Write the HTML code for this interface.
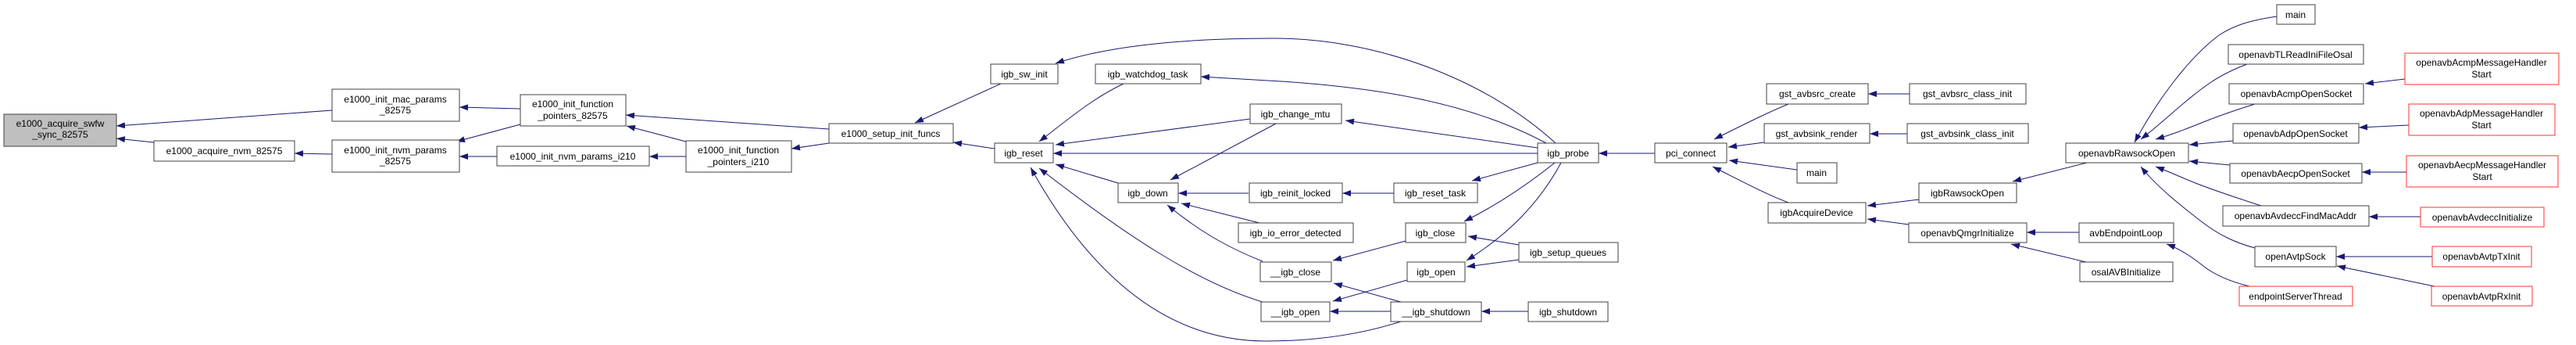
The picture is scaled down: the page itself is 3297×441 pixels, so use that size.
<!DOCTYPE html>
<html><head><meta charset="utf-8"><style>
html,body{margin:0;padding:0;background:#fff;width:3297px;height:441px;overflow:hidden}
svg{display:block}
text{font-family:"Liberation Sans",Arial,sans-serif;font-size:12px;fill:#000;text-anchor:middle}
.n{fill:#fff;stroke:#404040;stroke-width:1}
.r{fill:#fff;stroke:#ff3030;stroke-width:1}
.g{fill:#bfbfbf;stroke:#404040;stroke-width:1}
.e{fill:none;stroke:#191970;stroke-width:1;marker-end:url(#a)}
</style></head><body>
<svg width="3297" height="441" viewBox="0 0 3297 441" xmlns="http://www.w3.org/2000/svg">
<defs><marker id="a" markerUnits="userSpaceOnUse" markerWidth="12" markerHeight="8" refX="11" refY="4" orient="auto"><path d="M0,0 L11,4 L0,8 z" fill="#191970"/></marker></defs>
<!-- edges -->
<path class="e" d="M425,141 L149,161"/>
<path class="e" d="M197,182 L149,177"/>
<path class="e" d="M425,197 L377,196"/>
<path class="e" d="M666,139 L588,137"/>
<path class="e" d="M666,159 L584,181"/>
<path class="e" d="M636,200 L588,200"/>
<path class="e" d="M878,200 L831,200"/>
<path class="e" d="M878,181 L802,161"/>
<path class="e" d="M1061,165 L801,147"/>
<path class="e" d="M1061,183 L1013,190"/>
<path class="e" d="M1281,107 L1171,157"/>
<path class="e" d="M1273,190 L1220,182"/>
<path class="e" d="M1991,183 C1900,100 1760,49 1630,49 C1470,49 1390,68 1351,81"/>
<path class="e" d="M1979,183 C1880,130 1760,112 1640,104 L1537,98"/>
<path class="e" d="M1438,107 C1400,125 1370,150 1330,181"/>
<path class="e" d="M1600,152 L1351,185"/>
<path class="e" d="M1968,196 L1348,196"/>
<path class="e" d="M1968,189 L1722,154"/>
<path class="e" d="M1431,234 L1351,210"/>
<path class="e" d="M1616,334 C1580,320 1540,300 1494,262"/>
<path class="e" d="M1616,386 C1530,360 1440,300 1330,215"/>
<path class="e" d="M1793,411 C1740,428 1680,436 1620,436 C1500,436 1400,360 1319,214"/>
<path class="e" d="M1598,247 L1508,247"/>
<path class="e" d="M1612,285 L1512,260"/>
<path class="e" d="M1633,158 L1498,230"/>
<path class="e" d="M1784,247 L1718,247"/>
<path class="e" d="M1968,208 L1884,231"/>
<path class="e" d="M1990,208 C1950,240 1910,265 1874,283"/>
<path class="e" d="M1998,208 C1970,260 1930,300 1877,333"/>
<path class="e" d="M1799,308 L1706,333"/>
<path class="e" d="M1944,313 L1879,302"/>
<path class="e" d="M1944,332 L1877,341"/>
<path class="e" d="M1801,358 L1706,385"/>
<path class="e" d="M1793,386 L1707,362"/>
<path class="e" d="M1780,398 L1702,398"/>
<path class="e" d="M1956,398 L1896,398"/>
<path class="e" d="M2118,196 L2046,196"/>
<path class="e" d="M2289,133 C2260,145 2230,160 2194,178"/>
<path class="e" d="M2258,182 L2212,188"/>
<path class="e" d="M2300,217 L2213,205"/>
<path class="e" d="M2289,259 C2260,248 2230,232 2192,213"/>
<path class="e" d="M2444,120 L2391,120"/>
<path class="e" d="M2441,171 L2393,171"/>
<path class="e" d="M2456,255 L2390,263"/>
<path class="e" d="M2443,287 L2390,280"/>
<path class="e" d="M2671,208 L2576,232"/>
<path class="e" d="M2661,297 L2594,297"/>
<path class="e" d="M2670,335 L2574,312"/>
<path class="e" d="M2914,21 C2880,26 2860,32 2840,45 C2800,75 2760,130 2732,182"/>
<path class="e" d="M2876,82 C2860,88 2845,95 2830,105 C2800,125 2770,155 2740,178"/>
<path class="e" d="M2886,133 C2860,141 2835,150 2815,158 C2795,166 2780,172 2759,178"/>
<path class="e" d="M2858,180 L2802,185"/>
<path class="e" d="M2854,211 L2802,206"/>
<path class="e" d="M2894,263 C2860,252 2830,242 2810,234 C2790,226 2775,219 2759,213"/>
<path class="e" d="M2886,317 C2860,310 2840,300 2820,285 C2790,262 2760,238 2740,213"/>
<path class="e" d="M3078,101 L3027,107"/>
<path class="e" d="M3083,160 L3019,163"/>
<path class="e" d="M3080,220 L3023,220"/>
<path class="e" d="M3098,277 L3032,277"/>
<path class="e" d="M3113,328 L2990,328"/>
<path class="e" d="M3116,366 L2991,340"/>
<path class="e" d="M2879,366 C2855,360 2835,352 2820,340 C2805,328 2790,318 2773,312"/>
<!-- nodes -->
<rect class="g" x="5" y="146" width="144" height="41"/><text x="77" y="162">e1000_acquire_swfw</text><text x="77" y="176">_sync_82575</text>
<rect class="n" x="197" y="180" width="180" height="26"/><text x="287" y="197">e1000_acquire_nvm_82575</text>
<rect class="n" x="425" y="114" width="163" height="41"/><text x="506" y="131">e1000_init_mac_params</text><text x="506" y="145">_82575</text>
<rect class="n" x="425" y="179" width="163" height="41"/><text x="506" y="196">e1000_init_nvm_params</text><text x="506" y="210">_82575</text>
<rect class="n" x="666" y="121" width="135" height="40"/><text x="733" y="137">e1000_init_function</text><text x="733" y="152">_pointers_82575</text>
<rect class="n" x="636" y="187" width="195" height="25"/><text x="733" y="204">e1000_init_nvm_params_i210</text>
<rect class="n" x="878" y="180" width="135" height="40"/><text x="945" y="196">e1000_init_function</text><text x="945" y="211">_pointers_i210</text>
<rect class="n" x="1061" y="158" width="159" height="25"/><text x="1140" y="175">e1000_setup_init_funcs</text>
<rect class="n" x="1268" y="82" width="86" height="25"/><text x="1311" y="99">igb_sw_init</text>
<rect class="n" x="1402" y="82" width="135" height="25"/><text x="1469" y="99">igb_watchdog_task</text>
<rect class="n" x="1273" y="183" width="75" height="25"/><text x="1310" y="200">igb_reset</text>
<rect class="n" x="1600" y="133" width="117" height="25"/><text x="1658" y="150">igb_change_mtu</text>
<rect class="n" x="1431" y="234" width="77" height="25"/><text x="1469" y="251">igb_down</text>
<rect class="n" x="1599" y="234" width="119" height="25"/><text x="1658" y="251">igb_reinit_locked</text>
<rect class="n" x="1585" y="285" width="147" height="25"/><text x="1658" y="302">igb_io_error_detected</text>
<rect class="n" x="1613" y="335" width="91" height="25"/><text x="1658" y="352">__igb_close</text>
<rect class="n" x="1614" y="386" width="88" height="25"/><text x="1658" y="403">__igb_open</text>
<rect class="n" x="1968" y="183" width="78" height="25"/><text x="2007" y="200">igb_probe</text>
<rect class="n" x="2118" y="183" width="92" height="25"/><text x="2164" y="200">pci_connect</text>
<rect class="n" x="1784" y="234" width="107" height="25"/><text x="1837" y="251">igb_reset_task</text>
<rect class="n" x="1799" y="285" width="77" height="25"/><text x="1837" y="302">igb_close</text>
<rect class="n" x="1944" y="310" width="127" height="25"/><text x="2007" y="327">igb_setup_queues</text>
<rect class="n" x="1801" y="335" width="74" height="25"/><text x="1838" y="352">igb_open</text>
<rect class="n" x="1780" y="386" width="116" height="25"/><text x="1838" y="403">__igb_shutdown</text>
<rect class="n" x="1956" y="386" width="102" height="25"/><text x="2007" y="403">igb_shutdown</text>
<rect class="n" x="2261" y="107" width="130" height="26"/><text x="2326" y="124">gst_avbsrc_create</text>
<rect class="n" x="2444" y="107" width="149" height="26"/><text x="2518" y="124">gst_avbsrc_class_init</text>
<rect class="n" x="2258" y="158" width="135" height="25"/><text x="2325" y="175">gst_avbsink_render</text>
<rect class="n" x="2441" y="158" width="155" height="25"/><text x="2518" y="175">gst_avbsink_class_init</text>
<rect class="n" x="2300" y="208" width="51" height="26"/><text x="2325" y="225">main</text>
<rect class="n" x="2263" y="259" width="125" height="26"/><text x="2325" y="276">igbAcquireDevice</text>
<rect class="n" x="2456" y="234" width="125" height="25"/><text x="2518" y="251">igbRawsockOpen</text>
<rect class="n" x="2443" y="285" width="151" height="25"/><text x="2518" y="302">openavbQmgrInitialize</text>
<rect class="n" x="2644" y="183" width="157" height="25"/><text x="2722" y="200">openavbRawsockOpen</text>
<rect class="n" x="2661" y="285" width="121" height="25"/><text x="2721" y="302">avbEndpointLoop</text>
<rect class="n" x="2662" y="335" width="119" height="25"/><text x="2721" y="352">osalAVBInitialize</text>
<rect class="n" x="2914" y="6" width="49" height="25"/><text x="2938" y="23">main</text>
<rect class="n" x="2852" y="57" width="173" height="25"/><text x="2938" y="74">openavbTLReadIniFileOsal</text>
<rect class="n" x="2853" y="107" width="172" height="26"/><text x="2939" y="124">openavbAcmpOpenSocket</text>
<rect class="n" x="2858" y="158" width="161" height="25"/><text x="2938" y="175">openavbAdpOpenSocket</text>
<rect class="n" x="2854" y="209" width="169" height="25"/><text x="2938" y="226">openavbAecpOpenSocket</text>
<rect class="n" x="2845" y="263" width="187" height="26"/><text x="2938" y="280">openavbAvdeccFindMacAddr</text>
<rect class="n" x="2886" y="315" width="104" height="26"/><text x="2938" y="332">openAvtpSock</text>
<rect class="r" x="2866" y="366" width="145" height="25"/><text x="2938" y="383">endpointServerThread</text>
<rect class="r" x="3078" y="68" width="197" height="40"/><text x="3176" y="84">openavbAcmpMessageHandler</text><text x="3176" y="99">Start</text>
<rect class="r" x="3083" y="133" width="187" height="40"/><text x="3176" y="149">openavbAdpMessageHandler</text><text x="3176" y="164">Start</text>
<rect class="r" x="3080" y="199" width="194" height="40"/><text x="3177" y="215">openavbAecpMessageHandler</text><text x="3177" y="230">Start</text>
<rect class="r" x="3098" y="265" width="158" height="25"/><text x="3177" y="282">openavbAvdeccInitialize</text>
<rect class="r" x="3113" y="315" width="127" height="26"/><text x="3176" y="332">openavbAvtpTxInit</text>
<rect class="r" x="3112" y="366" width="129" height="25"/><text x="3176" y="383">openavbAvtpRxInit</text>
</svg>
</body></html>
